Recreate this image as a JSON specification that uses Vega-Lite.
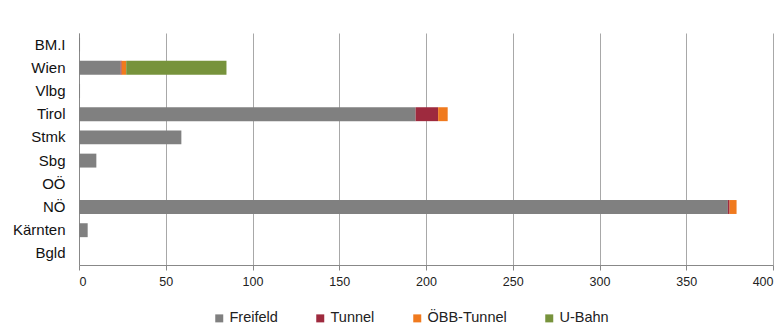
{
  "$schema": "https://vega.github.io/schema/vega-lite/v6.json",
  "autosize": "none",
  "width": 694,
  "height": 232,
  "padding": {"left": 79, "top": 33, "right": 11, "bottom": 62},
  "background": "white",
  "config": {
    "font": "Liberation Sans",
    "view": {"stroke": null},
    "axis": {"labelColor": "#222222", "labelFont": "Liberation Sans"}
  },
  "data": {
    "values": [
      {"land": "BM.I", "typ": "Freifeld", "km": 0.6},
      {"land": "Wien", "typ": "Freifeld", "km": 24},
      {"land": "Wien", "typ": "Tunnel", "km": 0.6},
      {"land": "Wien", "typ": "ÖBB-Tunnel", "km": 2.6},
      {"land": "Wien", "typ": "U-Bahn", "km": 57.8},
      {"land": "Vlbg", "typ": "Freifeld", "km": 0.6},
      {"land": "Tirol", "typ": "Freifeld", "km": 194},
      {"land": "Tirol", "typ": "Tunnel", "km": 13},
      {"land": "Tirol", "typ": "ÖBB-Tunnel", "km": 5.5},
      {"land": "Stmk", "typ": "Freifeld", "km": 59},
      {"land": "Sbg", "typ": "Freifeld", "km": 10},
      {"land": "OÖ", "typ": "Freifeld", "km": 0},
      {"land": "NÖ", "typ": "Freifeld", "km": 374},
      {"land": "NÖ", "typ": "Tunnel", "km": 1},
      {"land": "NÖ", "typ": "ÖBB-Tunnel", "km": 4},
      {"land": "Kärnten", "typ": "Freifeld", "km": 5},
      {"land": "Bgld", "typ": "Freifeld", "km": 0}
    ]
  },
  "transform": [
    {"calculate": "indexof(['Freifeld','Tunnel','ÖBB-Tunnel','U-Bahn'], datum.typ)", "as": "stackorder"}
  ],
  "mark": {"type": "bar", "stroke": null},
  "encoding": {
    "y": {
      "field": "land",
      "type": "nominal",
      "sort": ["BM.I", "Wien", "Vlbg", "Tirol", "Stmk", "Sbg", "OÖ", "NÖ", "Kärnten", "Bgld"],
      "scale": {"paddingInner": 0.4, "paddingOuter": 0.2},
      "axis": {
        "title": null,
        "ticks": false,
        "domain": true,
        "domainColor": "#888888",
        "labelFontSize": 15,
        "labelPadding": 14,
        "labelColor": "#111111"
      }
    },
    "x": {
      "field": "km",
      "type": "quantitative",
      "stack": "zero",
      "scale": {"domain": [0, 400], "nice": false},
      "axis": {
        "title": null,
        "values": [0, 50, 100, 150, 200, 250, 300, 350, 400],
        "grid": true,
        "gridColor": "#a8a8a8",
        "gridWidth": 1,
        "domainColor": "#888888",
        "tickColor": "#888888",
        "tickSize": 5,
        "labelFontSize": 12.5,
        "labelPadding": 5,
        "labelColor": "#222222"
      }
    },
    "color": {
      "field": "typ",
      "type": "nominal",
      "sort": ["Freifeld", "Tunnel", "ÖBB-Tunnel", "U-Bahn"],
      "scale": {
        "domain": ["Freifeld", "Tunnel", "ÖBB-Tunnel", "U-Bahn"],
        "range": ["#808080", "#9e2a3e", "#f07a1e", "#77933c"]
      },
      "legend": {
        "title": null,
        "orient": "none",
        "direction": "horizontal",
        "legendX": 133,
        "legendY": 278,
        "symbolType": "square",
        "symbolSize": 64,
        "symbolStrokeWidth": 0,
        "labelFontSize": 14.5,
        "labelColor": "#222222",
        "labelOffset": 3,
        "columnPadding": 35
      }
    },
    "order": {"field": "stackorder", "type": "quantitative", "sort": "ascending"}
  }
}
